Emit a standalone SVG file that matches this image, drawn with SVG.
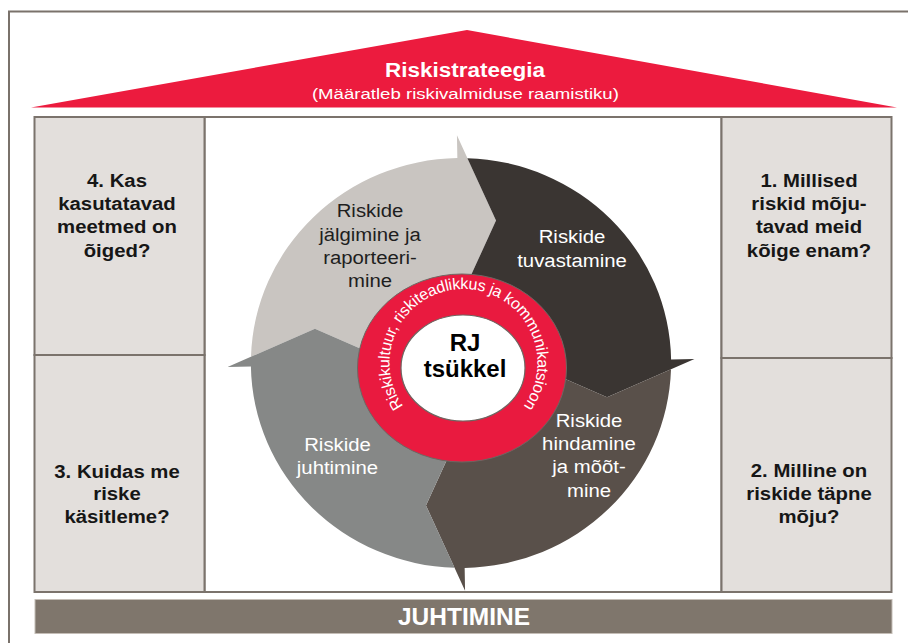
<svg xmlns="http://www.w3.org/2000/svg" xmlns:xlink="http://www.w3.org/1999/xlink" width="908" height="643" viewBox="0 0 908 643">
  <style>
    .frame { fill: none; stroke: #7a726b; stroke-width: 2; }
    .box { fill: #e3dfdc; stroke: #7b736c; stroke-width: 2; }
    .panel { fill: #ffffff; stroke: #7b736c; stroke-width: 2; }
    .q { font-family: "Liberation Sans", Arial, sans-serif; font-weight: bold; font-size: 18.5px; fill: #161616; text-anchor: middle; }
    .lbl { font-family: "Liberation Sans", Arial, sans-serif; font-size: 18px; text-anchor: middle; }
    .dark { fill: #1e1e1e; }
    .light { fill: #ffffff; }
    .roof { fill: #ec1b3e; }
    .white-b { font-family: "Liberation Sans", Arial, sans-serif; font-weight: bold; fill: #ffffff; text-anchor: middle; }
    .white-r { font-family: "Liberation Sans", Arial, sans-serif; fill: #ffffff; text-anchor: middle; }
    .core { font-family: "Liberation Sans", Arial, sans-serif; font-weight: bold; font-size: 24px; fill: #000000; text-anchor: middle; }
    .ringtext { font-family: "Liberation Sans", Arial, sans-serif; font-size: 16px; fill: #ffffff; letter-spacing: -0.25px; }
  </style>
  <defs>
    <!-- one circular arrow segment, centred on the origin, head pointing clockwise at the top -->
    <path id="arrowShape" d="M-99.9 -14.9 L-143.9 -34.5 L-206.9 -6.3 A207 207 0 0 1 -3.6 -207 L-4 -230 L34.5 -143.9 L14.9 -99.9 L-4.7 -55.9 L-55.9 4.7 Z"/>
    <!-- baseline circle for the ring caption, starting at the bottom and running clockwise -->
    <path id="ringPath" d="M463.5 437 A74 74 0 0 1 463.5 289 A74 74 0 0 1 463.5 437"/>
  </defs>

  <!-- outer frame -->
  <path class="frame" d="M9 643 V11.5 H908"/>

  <!-- roof: strategy -->
  <g id="strategy">
    <polygon class="roof" points="31,107.5 467,30 897,107.5"/>
    <text class="white-b" x="465" y="76.7" font-size="20" textLength="160" lengthAdjust="spacingAndGlyphs">Riskistrateegia</text>
    <text class="white-r" x="465.4" y="99.4" font-size="15.5" textLength="307" lengthAdjust="spacingAndGlyphs">(Määratleb riskivalmiduse raamistiku)</text>
  </g>

  <!-- central panel -->
  <g id="panel">
    <rect class="panel" x="204.5" y="117" width="517" height="475"/>
  </g>

  <!-- question boxes -->
  <g id="q4">
    <rect class="box" x="34.5" y="117" width="170" height="238"/>
    <g transform="translate(117 0) scale(1.1 1)">
      <text class="q"><tspan x="0" y="187.3">4. Kas</tspan><tspan x="0" y="210.3">kasutatavad</tspan><tspan x="0" y="233.5">meetmed on</tspan><tspan x="0" y="256.7">õiged?</tspan></text>
    </g>
  </g>
  <g id="q3">
    <rect class="box" x="34.5" y="355" width="170" height="237"/>
    <g transform="translate(117 0) scale(1.1 1)">
      <text class="q"><tspan x="0" y="477.6">3. Kuidas me</tspan><tspan x="0" y="500.4">riske</tspan><tspan x="0" y="523.3">käsitleme?</tspan></text>
    </g>
  </g>
  <g id="q1">
    <rect class="box" x="721.5" y="117" width="170" height="241"/>
    <g transform="translate(809 0) scale(1.1 1)">
      <text class="q"><tspan x="0" y="187.3">1. Millised</tspan><tspan x="0" y="210.5">riskid mõju-</tspan><tspan x="0" y="233.5">tavad meid</tspan><tspan x="0" y="256.7">kõige enam?</tspan></text>
    </g>
  </g>
  <g id="q2">
    <rect class="box" x="721.5" y="358" width="170" height="234"/>
    <g transform="translate(809 0) scale(1.1 1)">
      <text class="q"><tspan x="0" y="477.4">2. Milline on</tspan><tspan x="0" y="500.3">riskide täpne</tspan><tspan x="0" y="523.3">mõju?</tspan></text>
    </g>
  </g>

  <!-- cycle steps (each a curved arrow with its label) -->
  <g id="step-monitor">
    <use xlink:href="#arrowShape" href="#arrowShape" fill="#c9c5c1" transform="translate(461 363) scale(1.015 0.99)"/>
    <g transform="translate(370 0) scale(1.13 1)">
      <text class="lbl dark"><tspan x="0" y="217.3">Riskide</tspan><tspan x="0" y="240.7">jälgimine ja</tspan><tspan x="0" y="264">raporteeri-</tspan><tspan x="0" y="286.7">mine</tspan></text>
    </g>
  </g>
  <g id="step-identify">
    <use xlink:href="#arrowShape" href="#arrowShape" fill="#3a3532" transform="translate(461 363) scale(1.015 0.99) rotate(90)"/>
    <g transform="translate(572 0) scale(1.13 1)">
      <text class="lbl light"><tspan x="0" y="243.3">Riskide</tspan><tspan x="0" y="266.7">tuvastamine</tspan></text>
    </g>
  </g>
  <g id="step-assess">
    <use xlink:href="#arrowShape" href="#arrowShape" fill="#59504a" transform="translate(461 363) scale(1.015 0.99) rotate(180)"/>
    <g transform="translate(589 0) scale(1.13 1)">
      <text class="lbl light"><tspan x="0" y="426.7">Riskide</tspan><tspan x="0" y="450">hindamine</tspan><tspan x="0" y="473.3">ja mõõt-</tspan><tspan x="0" y="496.7">mine</tspan></text>
    </g>
  </g>
  <g id="step-manage">
    <use xlink:href="#arrowShape" href="#arrowShape" fill="#868887" transform="translate(461 363) scale(1.015 0.99) rotate(270)"/>
    <g transform="translate(337.5 0) scale(1.13 1)">
      <text class="lbl light"><tspan x="0" y="450.7">Riskide</tspan><tspan x="0" y="474">juhtimine</tspan></text>
    </g>
  </g>

  <!-- hub: culture ring and cycle name -->
  <g id="core">
    <ellipse cx="462" cy="368" rx="104.5" ry="94" fill="#e91a3f" stroke="#6e6762" stroke-width="1"/>
    <ellipse cx="463" cy="368" rx="62" ry="53" fill="#ffffff" stroke="#6e6762" stroke-width="1.2"/>
    <text class="ringtext"><textPath xlink:href="#ringPath" href="#ringPath" startOffset="50%" text-anchor="middle">Riskikultuur, riskiteadlikkus ja kommunikatsioon</textPath></text>
    <text class="core" x="465" y="350.5">RJ</text>
    <text class="core" x="465" y="376.8">tsükkel</text>
  </g>

  <!-- base bar -->
  <g id="management">
    <rect x="35" y="599.5" width="857" height="34" fill="#7f766c" stroke="#c4bdb6" stroke-width="1"/>
    <text class="white-b" x="464" y="625" font-size="23" textLength="132" lengthAdjust="spacingAndGlyphs">JUHTIMINE</text>
  </g>
</svg>
